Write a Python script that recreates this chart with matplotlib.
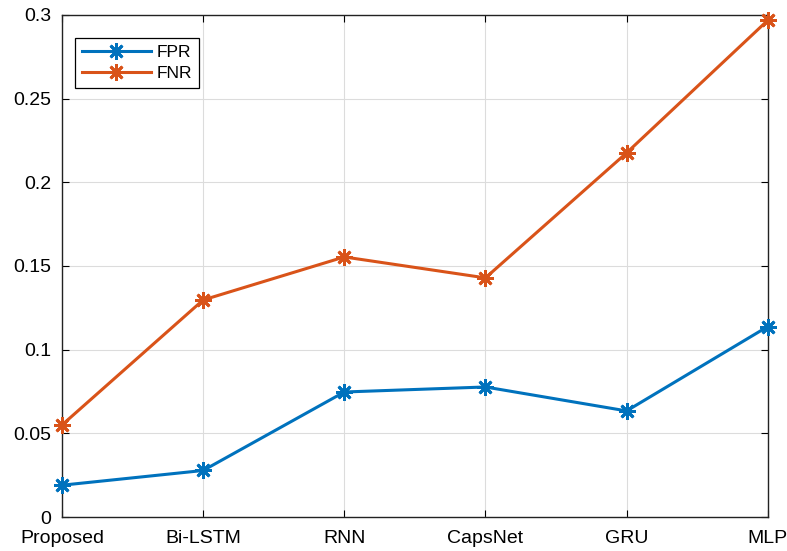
import numpy as np
import matplotlib.pyplot as plt

models = ['Proposed', 'Bi-LSTM', 'RNN', 'CapsNet', 'GRU', 'MLP']
fpr = [0.019, 0.0278, 0.0747, 0.0777, 0.0634, 0.1138]
fnr = [0.055, 0.1297, 0.1554, 0.1429, 0.2176, 0.2968]

plt.rcParams['font.family'] = ['Liberation Sans', 'DejaVu Sans']

fig = plt.figure(figsize=(7.87, 5.51), dpi=100)
ax = fig.add_axes([0.0788, 0.0617, 0.8967, 0.9111])

x = np.arange(1, len(models) + 1)
star = (8, 2, 0)
ax.plot(x, fpr, color='#0072BD', lw=2.2, marker=star, markersize=12,
        markeredgewidth=2, label='FPR', clip_on=False, zorder=3)
ax.plot(x, fnr, color='#D95319', lw=2.2, marker=star, markersize=12,
        markeredgewidth=2, label='FNR', clip_on=False, zorder=3)

ax.set_xlim(1, len(models))
ax.set_ylim(0, 0.3)
ax.set_xticks(x)
ax.set_xticklabels(models)
ax.set_yticks([0, 0.05, 0.1, 0.15, 0.2, 0.25, 0.3])
ax.set_yticklabels(['0', '0.05', '0.1', '0.15', '0.2', '0.25', '0.3'])
ax.tick_params(direction='in', top=True, right=True, labelsize=14,
               length=5, width=0.8)
ax.tick_params(axis='x', pad=9)
ax.tick_params(axis='y', pad=8)
ax.grid(True, color='#dcdcdc', lw=0.8)
ax.set_axisbelow(True)
for s in ax.spines.values():
    s.set_linewidth(1)
    s.set_color('#222222')

leg = ax.legend(loc='upper left', bbox_to_anchor=(0.018, 0.954),
                borderaxespad=0, fontsize=12.5, handlelength=4.0,
                fancybox=False, edgecolor='black', framealpha=1,
                borderpad=0.4, labelspacing=0.35, handletextpad=0.3)
leg.get_frame().set_linewidth(0.9)

fig.savefig('out.png', dpi=100)
